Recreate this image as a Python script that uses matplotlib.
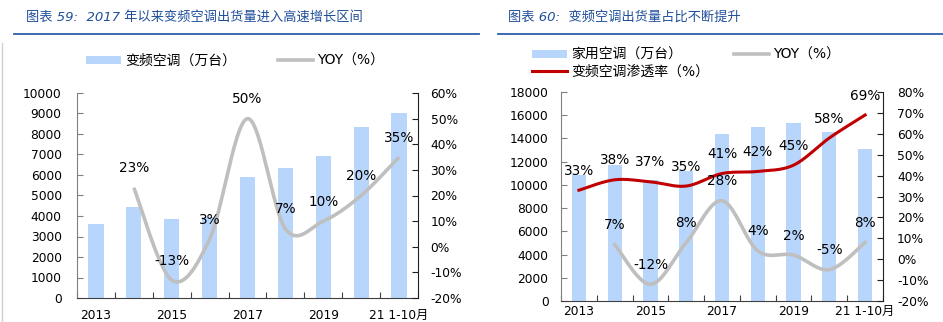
import numpy as np
import matplotlib
matplotlib.use("Agg")
import matplotlib.pyplot as plt
from matplotlib.lines import Line2D
from matplotlib.patches import Patch

plt.rcParams['font.family'] = ['DejaVu Sans', 'Noto Sans CJK SC']
plt.rcParams['axes.unicode_minus'] = False

# chart 59 data
years = ['2013', '2014', '2015', '2016', '2017', '2018', '2019', '2020', '21 1-10月']
inv_ac = [3600, 4420, 3850, 3950, 5920, 6320, 6940, 8320, 9000]
inv_yoy = [None, 23, -13, 3, 50, 7, 10, 20, 35]

# chart 60 data
home_ac = [10850, 11700, 10400, 11200, 14350, 15000, 15300, 14550, 13050]
pen_rate = [33, 38, 37, 35, 41, 42, 45, 58, 69]
home_yoy = [None, 7, -12, 8, 28, 4, 2, -5, 8]

BAR = '#B8D6FC'
GRAY = '#BFBFBF'
RED = '#C00000'
TITLE = '#1F4E9A'


# smoothed line through points (catmull-rom, like excel's smoothed line)
def smooth(x, y, n=30):
    p = np.column_stack([x, y]).astype(float)
    out = []
    for i in range(len(p) - 1):
        a = p[i - 1] if i > 0 else p[i]
        b, c = p[i], p[i + 1]
        d = p[i + 2] if i + 2 < len(p) else p[i + 1]
        m0 = (c - a) / 2
        m1 = (d - b) / 2
        t = np.linspace(0, 1, n)[:, None]
        h00 = 2 * t**3 - 3 * t**2 + 1
        h10 = t**3 - 2 * t**2 + t
        h01 = -2 * t**3 + 3 * t**2
        h11 = t**3 - t**2
        out.append(h00 * b + h10 * m0 + h01 * c + h11 * m1)
    s = np.vstack(out)
    return s[:, 0], s[:, 1]


def style_axes(ax, ax2, lpad, rpad, xpad):
    ax.set_xlim(-0.5, len(years) - 0.5)
    ax.set_xticks(np.arange(-0.5, len(years), 1))
    ax.set_xticklabels([])
    ax.set_xticks(range(0, len(years), 2), minor=True)
    ax.set_xticklabels([years[i] for i in range(0, len(years), 2)], minor=True)
    ax.tick_params(axis='x', which='major', direction='in', length=4, color='#404040')
    ax.tick_params(axis='x', which='minor', length=0, pad=xpad, labelsize=8.8)
    ax.tick_params(axis='y', direction='in', length=4, pad=lpad, labelsize=8.8, color='#808080')
    ax2.tick_params(axis='y', direction='in', length=4, pad=rpad, labelsize=8.8, color='#202020')
    for a in (ax, ax2):
        a.spines['top'].set_visible(False)
    ax.spines['right'].set_visible(False)
    ax.spines['left'].set_color('#808080')
    ax.spines['bottom'].set_color('#404040')
    ax2.spines['left'].set_visible(False)
    ax2.spines['bottom'].set_visible(False)
    ax2.spines['right'].set_color('#202020')
    ax2.yaxis.set_major_formatter(lambda v, pos: f"{v:.0f}%")


def label_line(ax2, vals):
    for i, v in enumerate(vals):
        if v is None:
            continue
        ax2.annotate(f"{v}%", (i, v), xytext=(0, 14), textcoords='offset points',
                     ha='center', va='center', fontsize=9.8)


fig = plt.figure(figsize=(9.43, 3.22), dpi=100)

# ---------- left panel ----------
ax = fig.add_axes([77 / 943, 1 - 298 / 322, 341 / 943, 205 / 322])
ax2 = ax.twinx()
x = np.arange(len(years))
ax.bar(x, inv_ac, width=0.4, color=BAR, zorder=1)
ax.set_ylim(0, 10000)
ax.set_yticks(range(0, 10001, 1000))
ax2.set_ylim(-20, 60)
ax2.set_yticks(range(-20, 61, 10))
xi = [i for i, v in enumerate(inv_yoy) if v is not None]
sx, sy = smooth(xi, [inv_yoy[i] for i in xi])
ax2.plot(sx, sy, color=GRAY, lw=2.6, solid_capstyle='butt')
label_line(ax2, inv_yoy)
style_axes(ax, ax2, 11, 9, 8)

h1 = Patch(facecolor=BAR, edgecolor='none')
h2 = Line2D([], [], color=GRAY, lw=2.6)
ax.legend([h1, h2], ['变频空调（万台）', 'YOY（%）'], ncol=2, frameon=False,
          loc='center', bbox_to_anchor=(235 / 943, 1 - 61 / 322), bbox_transform=fig.transFigure,
          fontsize=10, handlelength=2.5, handleheight=0.55, columnspacing=3.0,
          handletextpad=0.3, borderpad=0)

# ---------- right panel ----------
bx = fig.add_axes([561 / 943, 1 - 301 / 322, 322 / 943, 209 / 322])
bx2 = bx.twinx()
bx.bar(x, home_ac, width=0.4, color=BAR, zorder=1)
bx.set_ylim(0, 18000)
bx.set_yticks(range(0, 18001, 2000))
bx2.set_ylim(-20, 80)
bx2.set_yticks(range(-20, 81, 10))
sx, sy = smooth(x, pen_rate)
bx2.plot(sx, sy, color=RED, lw=2.2)
xi = [i for i, v in enumerate(home_yoy) if v is not None]
sx, sy = smooth(xi, [home_yoy[i] for i in xi])
bx2.plot(sx, sy, color=GRAY, lw=2.6)
label_line(bx2, pen_rate)
label_line(bx2, home_yoy)
style_axes(bx, bx2, 9, 10, 3)

h3 = Line2D([], [], color=RED, lw=2.2)
bx.legend([h1, h3, h2], ['家用空调（万台）', '变频空调渗透率（%）', 'YOY（%）'], ncol=2,
          frameon=False, loc='upper left', bbox_to_anchor=(525 / 943, 1 - 41 / 322),
          bbox_transform=fig.transFigure, fontsize=10, handlelength=2.5,
          handleheight=0.55, columnspacing=1.8, handletextpad=0.3, borderpad=0,
          labelspacing=0.2)

# ---------- titles and frame ----------
fig.text(26 / 943, 1 - 17 / 322, '图表 59:  2017 年以来变频空调出货量进入高速增长区间',
         color=TITLE, fontsize=9.5, style='italic', va='center')
fig.text(508 / 943, 1 - 17 / 322, '图表 60:  变频空调出货量占比不断提升',
         color=TITLE, fontsize=9.5, style='italic', va='center')
fig.add_artist(Line2D([14 / 943, 479 / 943], [1 - 34 / 322] * 2, color='#2E5EAA', lw=1.3))
fig.add_artist(Line2D([498 / 943, 1.0], [1 - 34 / 322] * 2, color='#2E5EAA', lw=1.3))
fig.add_artist(Line2D([2 / 943] * 2, [0, 1 - 43 / 322], color='#D0D0D0', lw=1))

fig.savefig('out.png', dpi=100)
